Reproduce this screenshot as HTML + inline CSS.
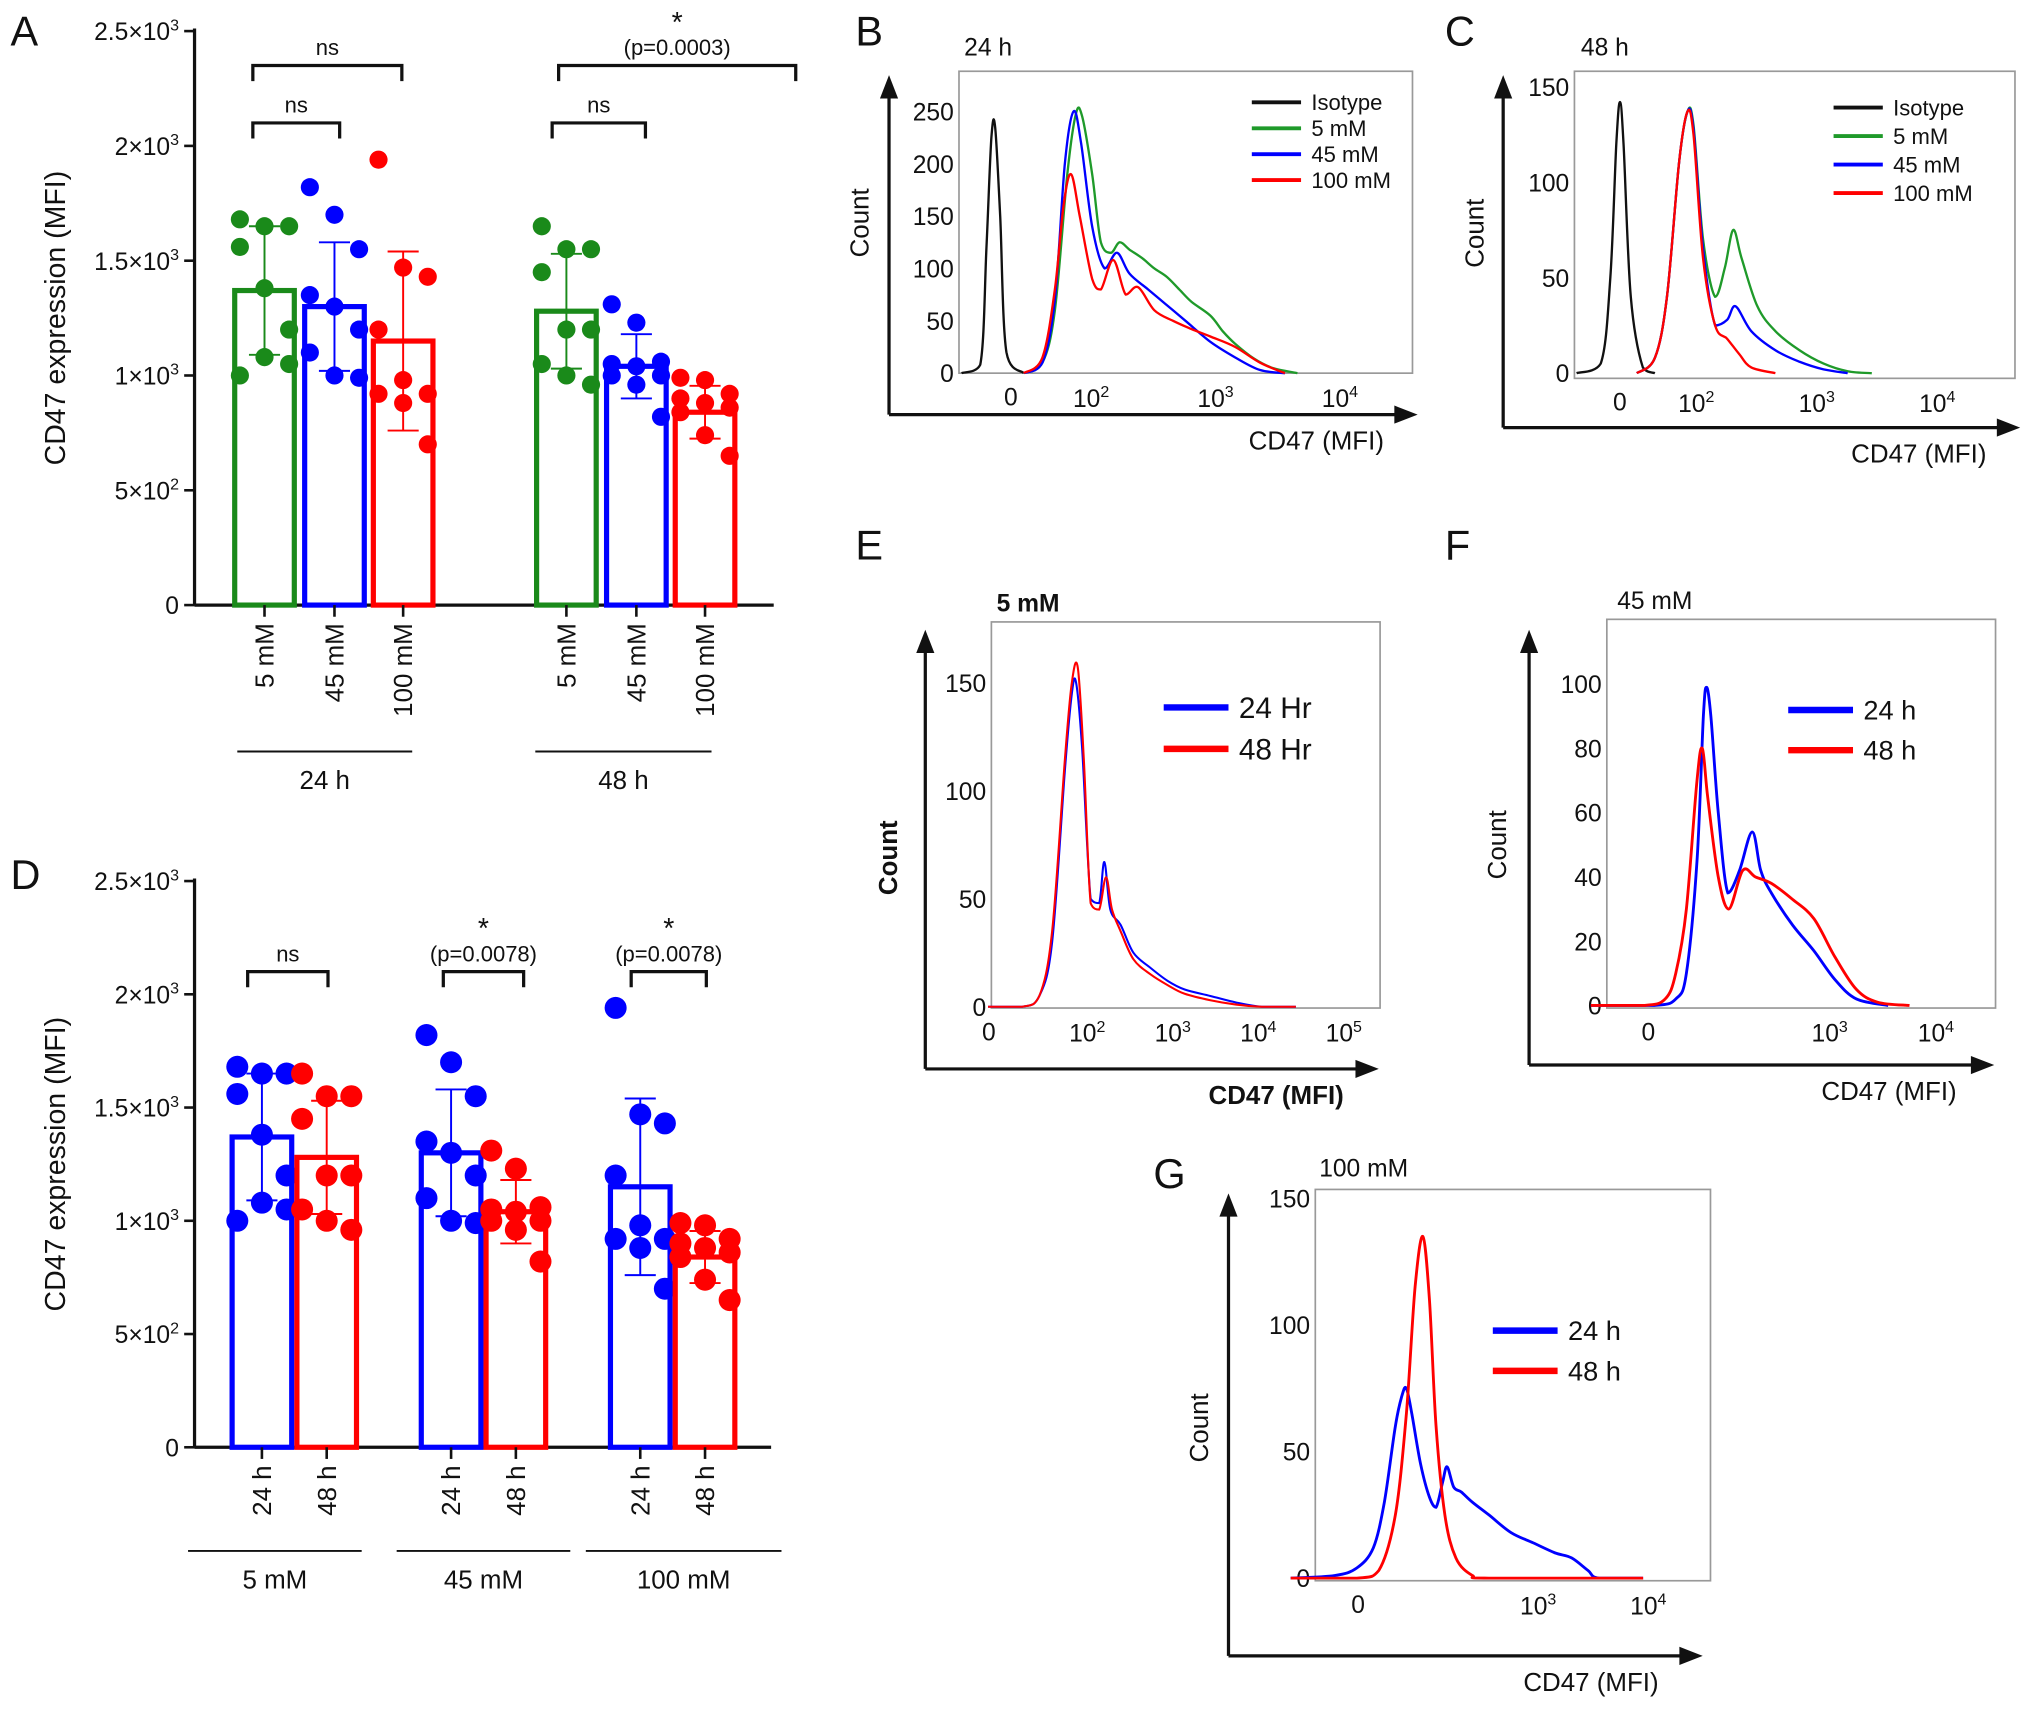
<!DOCTYPE html>
<html><head><meta charset="utf-8"><style>
html,body{margin:0;padding:0;background:#fff;}
svg{display:block;font-family:"Liberation Sans",Arial,sans-serif;}
</style></head><body>
<svg id="fig" width="2032" height="1709" viewBox="0 0 1568 1319" xmlns="http://www.w3.org/2000/svg"></svg>
<script>
// ===== Bar chart data (panels A and D) =====
const groupsA = ["24 h","48 h"];
const concs = ["5 mM","45 mM","100 mM"];
const mean24 = [1370,1300,1150];
const mean48 = [1280,1040,840];
const sd24 = [280,280,390];
const sd48 = [250,140,115];
const pts24_5 = [1680,1650,1650,1560,1380,1200,1000,1080,1050];
const pts24_45 = [1820,1700,1550,1350,1300,1200,1100,1000,990];
const pts24_100 = [1940,1470,1430,1200,980,920,920,880,700];
const pts48_5 = [1650,1550,1550,1450,1200,1200,1050,1000,960];
const pts48_45 = [1310,1230,1060,1050,1040,1000,1000,960,820];
const pts48_100 = [990,980,920,900,880,860,840,740,650];
const yTicksBar = [0,500,1000,1500,2000,2500];
const yTickLabelsBar = [["0",""],["5×10","2"],["1×10","3"],["1.5×10","3"],["2×10","3"],["2.5×10","3"]];

// ===== Histogram data (x in log10 decades, y = counts) =====
const B_iso_x=[1.0,1.15,1.2,1.24,1.27,1.31,1.36,1.5], B_iso_y=[0,8,120,225,235,150,20,0];
const B_5_x=[1.5,1.65,1.75,1.85,1.92,1.97,2.05,2.12,2.2,2.27,2.35,2.45,2.55,2.65,2.75,2.85,3.0,3.1,3.2,3.35,3.5,3.7], B_5_y=[0,10,60,190,248,245,190,125,115,125,118,110,100,92,80,68,55,40,28,14,5,0];
const B_45_x=[1.5,1.65,1.75,1.83,1.9,1.96,2.05,2.15,2.25,2.35,2.5,2.65,2.8,3.0,3.2,3.4,3.6], B_45_y=[0,10,70,200,250,220,140,100,115,95,80,65,50,30,15,3,0];
const B_100_x=[1.5,1.65,1.75,1.82,1.88,1.95,2.05,2.12,2.22,2.32,2.42,2.55,2.7,2.85,3.0,3.2,3.4,3.6], B_100_y=[0,15,80,160,190,150,90,80,108,75,82,60,50,42,35,25,10,0];
const C_iso_x=[1.05,1.25,1.33,1.38,1.41,1.44,1.5,1.6,1.7], C_iso_y=[0,5,50,120,142,120,40,3,0];
const C_5_x=[1.55,1.7,1.8,1.9,1.97,2.02,2.1,2.2,2.28,2.35,2.42,2.55,2.7,2.9,3.1,3.3,3.5], C_5_y=[0,8,40,110,137,130,70,40,55,75,60,35,22,12,5,1,0];
const C_45_x=[1.55,1.7,1.8,1.9,1.97,2.02,2.1,2.2,2.3,2.37,2.5,2.7,2.9,3.1,3.3], C_45_y=[0,8,40,110,137,128,65,25,28,35,22,12,6,2,0];
const C_100_x=[1.55,1.7,1.8,1.9,1.97,2.02,2.1,2.2,2.3,2.4,2.5,2.7], C_100_y=[0,8,40,110,137,125,60,25,18,10,3,0];
const E_24_x=[0.9,1.3,1.5,1.65,1.8,1.88,1.93,2.0,2.1,2.2,2.26,2.33,2.45,2.6,2.8,3.0,3.2,3.5,3.8,4.1,4.5], E_24_y=[0,0,5,30,110,145,150,120,50,48,67,45,38,25,18,12,8,5,2,0,0];
const E_48_x=[0.9,1.3,1.5,1.65,1.8,1.88,1.95,2.02,2.1,2.2,2.28,2.35,2.45,2.6,2.8,3.0,3.2,3.5,3.8,4.1,4.5], E_48_y=[0,0,5,35,115,150,157,115,48,45,60,45,35,22,15,10,6,3,1,0,0];
const F_24_x=[0.8,1.4,1.6,1.7,1.8,1.86,1.89,1.93,2.0,2.09,2.2,2.32,2.4,2.5,2.7,2.9,3.1,3.3,3.6], F_24_y=[0,0,2,10,45,90,99,90,60,35,42,54,42,35,25,17,8,2,0];
const F_48_x=[0.8,1.3,1.5,1.6,1.7,1.8,1.85,1.9,2.0,2.1,2.23,2.35,2.5,2.7,2.9,3.1,3.3,3.5,3.8], F_48_y=[0,0,2,10,30,70,80,65,40,30,42,40,38,33,27,15,5,1,0];
const G_24_x=[0.8,1.2,1.4,1.55,1.65,1.75,1.81,1.85,1.9,1.98,2.06,2.12,2.18,2.22,2.28,2.35,2.45,2.6,2.8,3.0,3.2,3.35,3.5,3.6,4.0], G_24_y=[0,1,4,12,30,60,72,75,65,45,32,28,38,44,36,34,30,25,18,14,10,8,3,0,0];
const G_48_x=[0.8,1.4,1.6,1.75,1.85,1.93,2.0,2.06,2.12,2.2,2.3,2.45,2.6,4.0], G_48_y=[0,0,3,25,65,115,135,110,60,25,8,1,0,0];

const NS="http://www.w3.org/2000/svg";
const svg=document.getElementById('fig');
function el(tag,attrs,parent){const e=document.createElementNS(NS,tag);for(const k in attrs)e.setAttribute(k,attrs[k]);(parent||svg).appendChild(e);return e;}
function txt(x,y,s,size,anchor,parent,extra){const t=el('text',Object.assign({x:x,y:y,'font-size':size,'text-anchor':anchor||'middle',fill:'#111'},extra||{}),parent);t.textContent=s;return t;}
function sup(x,y,base,exp,size,anchor,parent){const t=el('text',{x:x,y:y,'font-size':size,'text-anchor':anchor,fill:'#111'},parent);const a=el('tspan',{},t);a.textContent=base;if(exp){const b=el('tspan',{dy:-size*0.4,'font-size':size*0.65},t);b.textContent=exp;}return t;}

// ===== Panel letters =====
[["A",8,35],["B",660,35],["C",1115,35],["D",8,686],["E",660,432],["F",1115,432],["G",890,917]].forEach(([s,x,y])=>{
 const t=txt(x,y,s,32,'start');
 
 
});

// ===== Bar chart function =====
function barChart(cfg){
 const g=el('g',{});
 
 
 const yS=v=>cfg.y0-(v/2500)*(cfg.y0-cfg.y1);
 el('line',{x1:cfg.ax,y1:cfg.y1-2,x2:cfg.ax,y2:cfg.y0,stroke:'#111','stroke-width':2.5},g);
 el('line',{x1:cfg.ax,y1:cfg.y0,x2:cfg.axEnd,y2:cfg.y0,stroke:'#111','stroke-width':2.5},g);
 yTicksBar.forEach((v,i)=>{
  el('line',{x1:cfg.ax-8,y1:yS(v),x2:cfg.ax,y2:yS(v),stroke:'#111','stroke-width':2},g);
  const t=sup(cfg.ax-12,yS(v)+7,yTickLabelsBar[i][0],yTickLabelsBar[i][1],19,'end',g);
  
  
 });
 const yt=txt(0,0,'CD47 expression (MFI)',22,'middle',g,{transform:`translate(${cfg.ax-100},${(cfg.y0+cfg.y1)/2}) rotate(-90)`});
 
 
 cfg.bars.forEach((b,i)=>{
  const x=b.x, w=46, cx=x+w/2;
  const r=el('rect',{x:x,y:yS(b.mean),width:w,height:cfg.y0-yS(b.mean),fill:'none',stroke:b.color,'stroke-width':4},g);
  
  
  el('line',{x1:cx,y1:yS(b.mean+b.sd),x2:cx,y2:yS(b.mean-b.sd),stroke:b.color,'stroke-width':1.5},g);
  el('line',{x1:cx-12,y1:yS(b.mean+b.sd),x2:cx+12,y2:yS(b.mean+b.sd),stroke:b.color,'stroke-width':1.5},g);
  el('line',{x1:cx-12,y1:yS(b.mean-b.sd),x2:cx+12,y2:yS(b.mean-b.sd),stroke:b.color,'stroke-width':1.5},g);
  b.pts.forEach((v,j)=>{
   const off=((j%3)-1)*19;
   const c=el('circle',{cx:cx+off,cy:yS(v),r:cfg.pr,fill:b.color},g);
   
   
  });
  el('line',{x1:cx,y1:cfg.y0,x2:cx,y2:cfg.y0+9,stroke:'#111','stroke-width':2},g);
  const lt=txt(0,0,b.label,20,'end',g,{transform:`translate(${cx+7},${cfg.y0+14}) rotate(-90)`});
  
  
 });
 cfg.groups.forEach(gr=>{
  el('line',{x1:gr.x1,y1:gr.y,x2:gr.x2,y2:gr.y,stroke:'#111','stroke-width':1.5},g);
  const t=txt((gr.x1+gr.x2)/2,gr.y+29,gr.label,20,'middle',g);
  
  
 });
 cfg.brackets.forEach(bk=>{
  const y=yS(bk.v);
  el('path',{d:`M${bk.x1},${y+12} V${y} H${bk.x2} V${y+12}`,fill:'none',stroke:'#111','stroke-width':2.5},g);
  const lines=bk.text;
  lines.forEach((s,k)=>{const t=txt((bk.x1+bk.x2)/2,y-8-(lines.length-1-k)*18,s,s==='*'?22:17,'middle',g);});
 });
}
const G='#1a8a1a',BL='#0000ff',R='#ff0000';
barChart({name:'panel-a-bar-chart',ax:150,axEnd:597,y0:467,y1:24,pr:7,
 bars:[
  {id:'24h-5mm',x:181,mean:mean24[0],sd:sd24[0],pts:pts24_5,color:G,label:concs[0]},
  {id:'24h-45mm',x:235,mean:mean24[1],sd:sd24[1],pts:pts24_45,color:BL,label:concs[1]},
  {id:'24h-100mm',x:288,mean:mean24[2],sd:sd24[2],pts:pts24_100,color:R,label:concs[2]},
  {id:'48h-5mm',x:414,mean:mean48[0],sd:sd48[0],pts:pts48_5,color:G,label:concs[0]},
  {id:'48h-45mm',x:468,mean:mean48[1],sd:sd48[1],pts:pts48_45,color:BL,label:concs[1]},
  {id:'48h-100mm',x:521,mean:mean48[2],sd:sd48[2],pts:pts48_100,color:R,label:concs[2]}],
 groups:[{x1:183,x2:318,y:580,label:groupsA[0]},{x1:413,x2:549,y:580,label:groupsA[1]}],
 brackets:[{x1:195,x2:310,v:2350,text:['ns']},{x1:195,x2:262,v:2100,text:['ns']},{x1:431,x2:614,v:2350,text:['*','(p=0.0003)']},{x1:426,x2:498,v:2100,text:['ns']}]
});
barChart({name:'panel-d-bar-chart',ax:150,axEnd:595,y0:1117,y1:680,pr:8.5,
 bars:[
  {id:'5mm-24h',x:179,mean:mean24[0],sd:sd24[0],pts:pts24_5,color:BL,label:groupsA[0]},
  {id:'5mm-48h',x:229,mean:mean48[0],sd:sd48[0],pts:pts48_5,color:R,label:groupsA[1]},
  {id:'45mm-24h',x:325,mean:mean24[1],sd:sd24[1],pts:pts24_45,color:BL,label:groupsA[0]},
  {id:'45mm-48h',x:375,mean:mean48[1],sd:sd48[1],pts:pts48_45,color:R,label:groupsA[1]},
  {id:'100mm-24h',x:471,mean:mean24[2],sd:sd24[2],pts:pts24_100,color:BL,label:groupsA[0]},
  {id:'100mm-48h',x:521,mean:mean48[2],sd:sd48[2],pts:pts48_100,color:R,label:groupsA[1]}],
 groups:[{x1:145,x2:279,y:1197,label:concs[0]},{x1:306,x2:440,y:1197,label:concs[1]},{x1:452,x2:603,y:1197,label:concs[2]}],
 brackets:[{x1:191,x2:253,v:2100,text:['ns']},{x1:342,x2:404,v:2100,text:['*','(p=0.0078)']},{x1:487,x2:545,v:2100,text:['*','(p=0.0078)']}]
});

// ===== Histogram function =====
function smoothPath(P){let d=`M${P[0][0]},${P[0][1]}`;for(let i=0;i<P.length-1;i++){const p0=P[i-1]||P[i],p1=P[i],p2=P[i+1],p3=P[i+2]||p2;
 const c1=[p1[0]+(p2[0]-p0[0])/6,p1[1]+(p2[1]-p0[1])/6],c2=[p2[0]-(p3[0]-p1[0])/6,p2[1]-(p3[1]-p1[1])/6];
 d+=` C${c1[0].toFixed(1)},${Math.min(c1[1],Math.max(p1[1],p2[1])).toFixed(1)} ${c2[0].toFixed(1)},${Math.min(c2[1],Math.max(p1[1],p2[1])).toFixed(1)} ${p2[0].toFixed(1)},${p2[1].toFixed(1)}`;}return d;}
function histo(c){
 const g=el('g',{});
 
 
 const xS=u=>c.x2+(u-2)*c.dec, yS=v=>c.y0-v*c.yk;
 el('rect',{x:c.bx1,y:c.by1,width:c.bx2-c.bx1,height:c.by2-c.by1,fill:'none',stroke:'#999','stroke-width':1.3},g);
 el('line',{x1:c.axX,y1:c.axY,x2:c.axX,y2:c.arTop+10,stroke:'#111','stroke-width':2.5},g);
 el('polygon',{points:`${c.axX-7},${c.arTop+14} ${c.axX+7},${c.arTop+14} ${c.axX},${c.arTop-4}`,fill:'#111'},g);
 el('line',{x1:c.axX,y1:c.axY,x2:c.arRight-10,y2:c.axY,stroke:'#111','stroke-width':2.5},g);
 el('polygon',{points:`${c.arRight-14},${c.axY-7} ${c.arRight-14},${c.axY+7} ${c.arRight+4},${c.axY}`,fill:'#111'},g);
 c.yt.forEach(v=>{const t=txt(c.bx1-4,yS(v)+7,String(v),19,'end',g);});
 const zt=txt(c.zeroX,c.by2+25,'0',19,'middle',g);
 c.xt.forEach(d=>{const t=sup(xS(d)-10,c.by2+26,'10',String(d),19,'start',g);});
 const xa=txt(c.xtx,c.xty,'CD47 (MFI)',20,'end',g,c.bold?{'font-weight':'bold'}:{});
 const ya=txt(0,0,'Count',20,'middle',g,Object.assign({transform:`translate(${c.ytx},${c.yty}) rotate(-90)`},c.bold?{'font-weight':'bold'}:{}));
 const tt=txt(c.tx,c.ty,c.title,19,'start',g,c.bold?{'font-weight':'bold'}:{});
 c.series.forEach(s=>{
  const P=s.x.map((u,i)=>[xS(u),yS(s.y[i])]);
  const p=el('path',{d:smoothPath(P),fill:'none',stroke:s.color,'stroke-width':c.sw||1.8},g);
  
  
 });
 c.series.forEach((s,i)=>{
  const y=c.ly+i*c.lh;
  el('line',{x1:c.lx,y1:y,x2:c.lx+c.ll,y2:y,stroke:s.color,'stroke-width':c.lsw},g);
  const t=txt(c.lx+c.ll+8,y+c.lfs*0.35,s.label,c.lfs,'start',g);
  
  
 });
}
const K='#111', GR='#1f9a2a';
histo({name:'panel-b-histogram',bx1:740,bx2:1090,by1:55,by2:288,x2:838,dec:96,y0:288,yk:0.808,axX:686,axY:320,arTop:62,arRight:1090,
 yt:[0,50,100,150,200,250],zeroX:780,xt:[2,3,4],xtx:1068,xty:347,ytx:670,yty:172,tx:744,ty:43,title:'24 h',
 lx:966,ly:79,lh:20,ll:38,lsw:3,lfs:17,
 series:[{id:'isotype',x:B_iso_x,y:B_iso_y,color:K,label:'Isotype'},{id:'5mm',x:B_5_x,y:B_5_y,color:GR,label:'5 mM'},{id:'45mm',x:B_45_x,y:B_45_y,color:BL,label:'45 mM'},{id:'100mm',x:B_100_x,y:B_100_y,color:R,label:'100 mM'}]});
histo({name:'panel-c-histogram',bx1:1215,bx2:1555,by1:55,by2:292,x2:1305,dec:93,y0:288,yk:1.473,axX:1160,axY:330,arTop:62,arRight:1555,
 yt:[0,50,100,150],zeroX:1250,xt:[2,3,4],xtx:1533,xty:357,ytx:1145,yty:180,tx:1220,ty:43,title:'48 h',
 lx:1415,ly:83,lh:22,ll:38,lsw:3,lfs:17,
 series:[{id:'isotype',x:C_iso_x,y:C_iso_y,color:K,label:'Isotype'},{id:'5mm',x:C_5_x,y:C_5_y,color:GR,label:'5 mM'},{id:'45mm',x:C_45_x,y:C_45_y,color:BL,label:'45 mM'},{id:'100mm',x:C_100_x,y:C_100_y,color:R,label:'100 mM'}]});
histo({name:'panel-e-histogram',bx1:765,bx2:1065,by1:480,by2:778,x2:835,dec:66,y0:777,yk:1.667,axX:714,axY:825,arTop:490,arRight:1060,
 yt:[0,50,100,150],zeroX:763,xt:[2,3,4,5],xtx:1037,xty:852,ytx:692,yty:662,tx:769,ty:472,title:'5 mM',bold:true,sw:1.6,
 lx:898,ly:546,lh:32,ll:50,lsw:5,lfs:23,
 series:[{id:'24hr',x:E_24_x,y:E_24_y,color:BL,label:'24 Hr'},{id:'48hr',x:E_48_x,y:E_48_y,color:R,label:'48 Hr'}]});
histo({name:'panel-f-histogram',bx1:1240,bx2:1540,by1:478,by2:778,x2:1326,dec:82,y0:776,yk:2.48,axX:1180,axY:822,arTop:490,arRight:1535,
 yt:[0,20,40,60,80,100],zeroX:1272,xt:[3,4],xtx:1510,xty:849,ytx:1162,yty:652,tx:1248,ty:470,title:'45 mM',sw:2.2,
 lx:1380,ly:548,lh:31,ll:50,lsw:5,lfs:21,
 series:[{id:'24h',x:F_24_x,y:F_24_y,color:BL,label:'24 h'},{id:'48h',x:F_48_x,y:F_48_y,color:R,label:'48 h'}]});
histo({name:'panel-g-histogram',bx1:1015,bx2:1320,by1:918,by2:1220,x2:1098,dec:85,y0:1218,yk:1.953,axX:948,axY:1278,arTop:925,arRight:1310,
 yt:[0,50,100,150],zeroX:1048,xt:[3,4],xtx:1280,xty:1305,ytx:932,yty:1102,tx:1018,ty:908,title:'100 mM',sw:2.2,
 lx:1152,ly:1027,lh:31,ll:50,lsw:5,lfs:21,
 series:[{id:'24h',x:G_24_x,y:G_24_y,color:BL,label:'24 h'},{id:'48h',x:G_48_x,y:G_48_y,color:R,label:'48 h'}]});
</script>
</body></html>
